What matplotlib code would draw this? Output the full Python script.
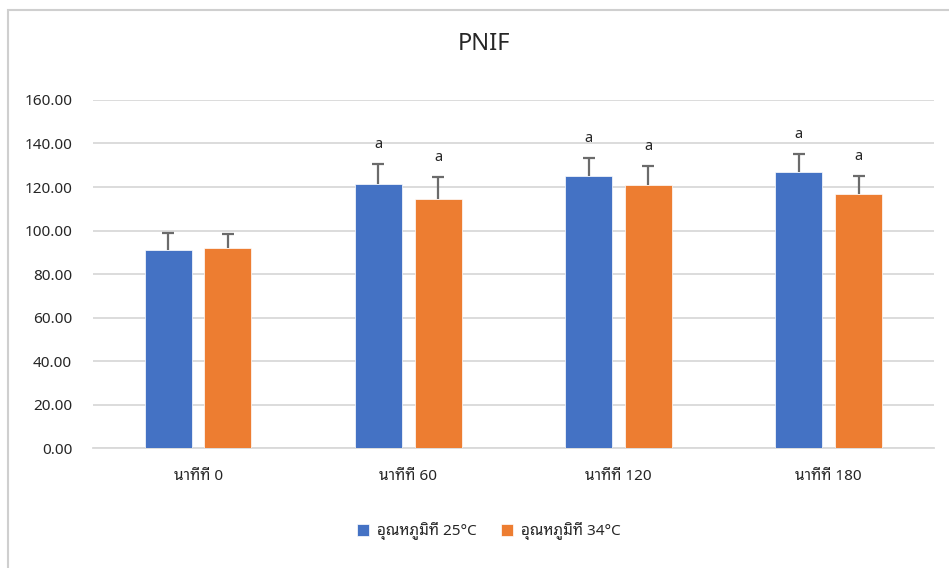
import matplotlib
matplotlib.use("Agg")
import matplotlib.pyplot as plt
from matplotlib.patches import Rectangle
import numpy as np

# fonts: Latin from Noto Sans, Thai falls through to the looped Thai face
plt.rcParams['font.family'] = ['Noto Sans', 'Noto Sans Thai Looped', 'Noto Sans Thai', 'DejaVu Sans']

categories = ["นาทีที่ 0", "นาทีที่ 60", "นาทีที่ 120", "นาทีที่ 180"]
series_names = ["อุณหภูมิที่ 25°C", "อุณหภูมิที่ 34°C"]
temp25 = [90.9, 121.4, 124.9, 126.9]
temp34 = [92.1, 114.5, 120.8, 116.8]
err25 = [7.8, 9.3, 8.6, 8.4]
err34 = [6.1, 10.1, 8.9, 8.3]
letters25 = ["", "a", "a", "a"]
letters34 = ["", "a", "a", "a"]
yticks = [0, 20, 40, 60, 80, 100, 120, 140, 160]

fig = plt.figure(figsize=(9.49, 5.68), dpi=100)
ax = fig.add_axes([0.098, 0.211, 0.886, 0.613])

x = np.arange(len(categories))
w = 0.224
off = 0.142
colors = ['#4472C4', '#ED7D31']

for vals, errs, letters, sign, col, name in [(temp25, err25, letters25, -1, colors[0], series_names[0]),
                                             (temp34, err34, letters34, 1, colors[1], series_names[1])]:
    xs = x + sign * off
    vals = np.array(vals)
    errs = np.array(errs)
    ax.bar(xs, vals, width=w, color=col, edgecolor='white', linewidth=0.5, label=name, zorder=2)
    # plus-only error bars: stem + top cap
    ax.vlines(xs, vals, vals + errs, color='#6b6b6b', linewidth=1.6, zorder=3)
    ax.plot(xs, vals + errs, linestyle='none', marker='_', markersize=9, markeredgewidth=1.6,
            color='#6b6b6b', zorder=3)
    for xi, v, e, t in zip(xs, vals, errs, letters):
        if t:
            ax.annotate(t, (xi, v + e), xytext=(0, 14), textcoords='offset points',
                        ha='center', va='center', fontsize=10.5, color='#262626')

ax.set_xlim(-0.5, 3.5)
ax.set_ylim(0, 160)
ax.set_yticks(yticks)
ax.set_yticklabels([f"{t:.2f}" for t in yticks])
ax.set_xticks(x)
ax.set_xticklabels(categories)
ax.tick_params(axis='both', length=0, labelsize=11, colors='#262626')
ax.tick_params(axis='y', pad=15)
ax.tick_params(axis='x', pad=15)
ax.yaxis.grid(True, color='#d9d9d9', linewidth=1.3, zorder=0)
ax.set_axisbelow(True)
for s in ['top', 'right', 'left']:
    ax.spines[s].set_visible(False)
ax.spines['bottom'].set_color('#d9d9d9')
ax.spines['bottom'].set_linewidth(1.3)
ax.spines['bottom'].set_zorder(1)

fig.text(0.51, 0.922, "PNIF", ha='center', va='center', fontsize=17, color='#262626')

fig.legend(loc='center', bbox_to_anchor=(0.515, 0.065), ncol=2, frameon=False,
           fontsize=11, handlelength=0.8, handleheight=0.8, handletextpad=0.5,
           columnspacing=1.6, labelcolor='#262626')

# chart area border
fig.patches.append(Rectangle((8 / 949, -0.1), 1.1, 1.1 - 10 / 568, transform=fig.transFigure,
                             fill=False, edgecolor='#cfcfcf', linewidth=1.5))

fig.savefig("out.png")
